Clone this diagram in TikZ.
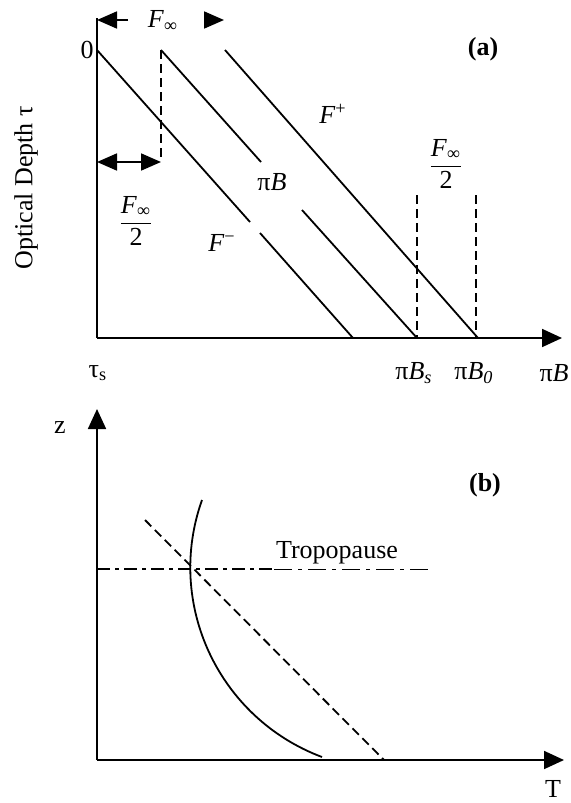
\documentclass[tikz,border=0pt]{standalone}
\usepackage{amsmath}
\usepackage{fontspec}
\setmainfont{Liberation Serif}
\usetikzlibrary{arrows.meta, positioning}
\tikzset{
  axisline/.style = {line width=0.9pt, -{Triangle[length=10pt, width=9pt]}},
  marker/.style   = {line width=0.9pt, -{Triangle[length=10pt, width=8.5pt]}},
  profile/.style  = {line width=0.9pt},
  guide/.style    = {line width=0.9pt, dash pattern=on 4.5pt off 2.5pt},
  tropo/.style    = {line width=0.9pt, dash pattern=on 6.5pt off 2.5pt on 2pt off 2.5pt},
  tropothin/.style= {line width=0.45pt, dash pattern=on 9pt off 3pt on 2pt off 3pt},
  tag/.style      = {font=\fontsize{13}{15}\selectfont\bfseries, inner sep=0pt},
  lbl/.style      = {inner sep=0pt},
}
\newcommand{\finf}{\textit{F}\textsubscript{∞}}

\begin{document}
\begin{tikzpicture}[x=0.5pt, y=-0.5pt, font=\fontsize{13}{15}\selectfont]
  \useasboundingbox (0,0) rectangle (570,803);

  % (a) fluxes against optical depth
  \coordinate (ao)   at (97,338);
  \coordinate (atop) at (97,18);
  \coordinate (aend) at (562,338);
  \draw[profile]  (atop) -- (ao);
  \draw[axisline] (ao) -- (aend);

  \node[lbl, rotate=90]  (depth) at (26,188) {Optical Depth τ};
  \node[lbl, anchor=east] (zero) at (94,50) {0};
  \node[lbl] (taus) at (98,373) {τ\textsubscript{s}};
  \node[lbl] (pibs) at (414,373) {π\textit{B\textsubscript{s}}};
  \node[lbl] (pibo) at (474,373) {π\textit{B\textsubscript{0}}};
  \node[lbl] (pib)  at (554,373) {π\textit{B}};
  \node[tag] (taga) at (483,49) {(a)};

  % width of the layer
  \node[lbl] (ftop) at (163,21) {\finf};
  \coordinate (tl) at (97,20);
  \coordinate (tl0) at (128,20);
  \coordinate (tr) at (224,20);
  \coordinate (tr0) at (205,20);
  \draw[marker] (tl0) -- (tl);
  \draw[marker] (tr0) -- (tr);

  % the three straight lines
  \coordinate (m0) at (97,50);
  \coordinate (m1) at (250,222);
  \coordinate (m2) at (260,233);
  \coordinate (m3) at (353,338);
  \coordinate (b0) at (161,50);
  \coordinate (b1) at (261,162);
  \coordinate (b2) at (302,210);
  \coordinate (b3) at (417,338);
  \coordinate (p0) at (225,50);
  \coordinate (p3) at (478,338);
  \draw[profile] (m0) -- (m1);
  \draw[profile] (m2) -- (m3);
  \draw[profile] (b0) -- (b1);
  \draw[profile] (b2) -- (b3);
  \draw[profile] (p0) -- (p3);

  \node[lbl] (fminus) at (222,243) {\textit{F}\textsuperscript{−}};
  \node[lbl] (piblab) at (272,182) {π\textit{B}};
  \node[lbl] (fplus)  at (333,114) {\textit{F}\textsuperscript{+}};

  % half-width markers
  \coordinate (hl) at (97,162);
  \coordinate (hr) at (161,162);
  \draw[guide] (b0) -- (hr);
  \draw[marker, {Triangle[length=10pt, width=8.5pt]}-{Triangle[length=10pt, width=8.5pt]}] (hl) -- (hr);
  \node[lbl] (halfl) at (136,221) {$\dfrac{\mbox{\finf}}{\mbox{2}}$};

  \coordinate (sb) at (417,195);
  \coordinate (so) at (476,195);
  \coordinate (so1) at (476,338);
  \draw[guide] (sb) -- (b3);
  \draw[guide] (so) -- (so1);
  \node[lbl] (halfr) at (446,164) {$\dfrac{\mbox{\finf}}{\mbox{2}}$};

  % (b) temperature against height
  \coordinate (bo)   at (97,760);
  \coordinate (btop) at (97,409);
  \coordinate (bend) at (564,760);
  \draw[axisline] (bo) -- (btop);
  \draw[axisline] (bo) -- (bend);
  \node[lbl] (zlab) at (60,428) {z};
  \node[lbl] (tlab) at (553,789) {T};
  \node[tag] (tagb) at (485,485) {(b)};

  \coordinate (t0) at (97,569);
  \coordinate (t1) at (274,569);
  \coordinate (t2) at (430,569);
  \draw[tropo] (t0) -- (t1);
  \draw[tropothin] (t1) -- (t2);
  \node[lbl] (tropolab) at (337,553) {Tropopause};

  \coordinate (c0) at (202,500);
  \coordinate (c1) at (322,757);
  \draw[profile] (c0) .. controls (164.9,604.2) and (218.9,718.3) .. (c1);

  \coordinate (d0) at (145,520);
  \coordinate (d1) at (384,760);
  \draw[guide] (d0) -- (d1);
\end{tikzpicture}
\end{document}
